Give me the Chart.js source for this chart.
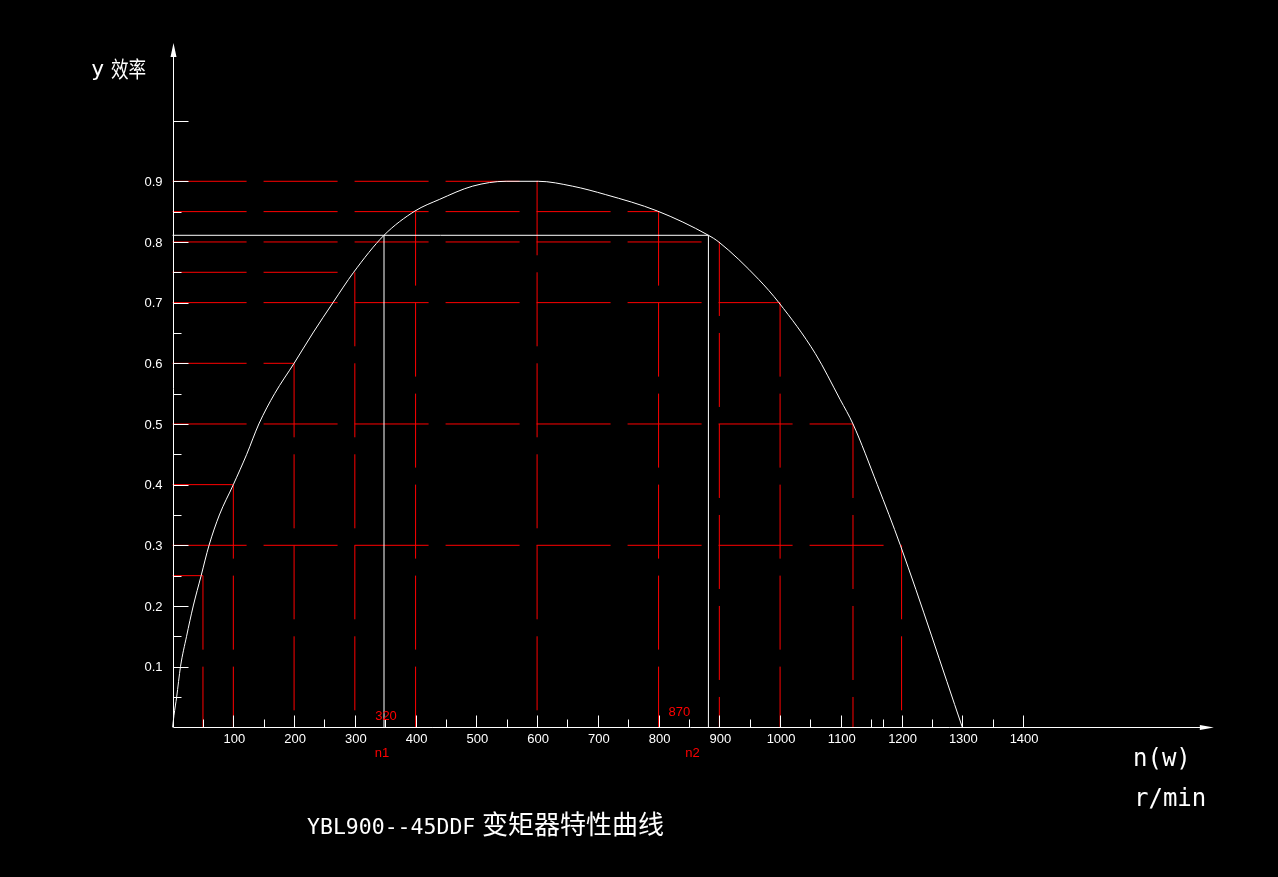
<!DOCTYPE html>
<html><head><meta charset="utf-8">
<script src="https://cdn.jsdelivr.net/npm/chart.js@4.4.1/dist/chart.umd.min.js"></script>
<style>html,body{margin:0;padding:0;background:#000;overflow:hidden}canvas{display:block}</style>
</head><body>
<canvas id="c" width="1278" height="877"></canvas>
<script>
// efficiency curve  n (r/min) -> y
const curveX = [0, 2.3, 6.7, 13, 23, 34, 47, 60, 77, 100, 122, 142, 168, 200, 231, 264, 298, 348, 399, 439, 494, 549, 602, 658, 713, 798, 882, 899, 965, 998, 1058, 1099, 1120, 1160, 1198, 1300];
const curveY = [0, 0.02, 0.05, 0.1, 0.15, 0.2, 0.25, 0.3, 0.35, 0.4, 0.45, 0.5, 0.55, 0.6, 0.65, 0.7, 0.75, 0.811, 0.851, 0.87, 0.892, 0.9, 0.9, 0.892, 0.878, 0.851, 0.811, 0.8, 0.738, 0.7, 0.616, 0.54, 0.5, 0.4, 0.3, 0];
// red dashed construction lines
const hLevels = [0.9, 0.85, 0.8, 0.75, 0.7, 0.6, 0.5, 0.4, 0.3, 0.25];
const hEnds   = [602, 800, 900, 300, 1000, 200, 1120, 100, 1200, 50];
const vPos    = [50, 100, 200, 300, 400, 600, 800, 900, 1000, 1120, 1200];
const vTops   = [0.25, 0.4, 0.6, 0.75, 0.85, 0.9, 0.85, 0.8, 0.7, 0.5, 0.3];
// working range marks n1 / n2
const markX = [348, 882];
const markLevel = 0.811;
const markValues = ['320', '870'];
const markNames = ['n1', 'n2'];
// axes
const xTickLabels = [100, 200, 300, 400, 500, 600, 700, 800, 900, 1000, 1100, 1200, 1300, 1400];
const xTickMarks = [50,100,150,200,250,300,350,400,450,500,550,600,650,700,750,800,850,900,950,1000,1050,1100,1150,1170,1200,1250,1300,1350,1400];
const yTickLabels = [0.1, 0.2, 0.3, 0.4, 0.5, 0.6, 0.7, 0.8, 0.9];
const yTickMarks = [0.05,0.1,0.15,0.2,0.25,0.3,0.35,0.4,0.45,0.5,0.55,0.6,0.65,0.7,0.75,0.8,0.85,0.9,1.0];
const axisXEnd = 1714;
const axisYEnd = 1.128;

const RED = '#ff0000', WHITE = '#ffffff';
const datasets = [];
datasets.push({
  data: curveX.map((v, i) => ({x: v, y: curveY[i]})),
  borderColor: WHITE, borderWidth: 1, pointRadius: 0, showLine: true,
  cubicInterpolationMode: 'monotone', order: 0
});
datasets.push({
  data: [{x: 0, y: markLevel}, {x: markX[1], y: markLevel}],
  borderColor: WHITE, borderWidth: 1, pointRadius: 0, showLine: true, order: 1
});
markX.forEach(m => datasets.push({
  data: [{x: m, y: 0}, {x: m, y: markLevel}],
  borderColor: WHITE, borderWidth: 1, pointRadius: 0, showLine: true, order: 1
}));
hLevels.forEach((lv, i) => datasets.push({
  data: [{x: 0, y: lv}, {x: hEnds[i], y: lv}],
  borderColor: RED, borderWidth: 1, borderDash: [74, 17], pointRadius: 0, showLine: true, order: 2
}));
vPos.forEach((p, i) => datasets.push({
  data: [{x: p, y: vTops[i]}, {x: p, y: 0}],
  borderColor: RED, borderWidth: 1, borderDash: [74, 17], pointRadius: 0, showLine: true, order: 2
}));

const overlay = {
  id: 'overlay',
  afterDatasetsDraw(chart) {
    const ctx = chart.ctx, xs = chart.scales.x, ys = chart.scales.y;
    const px = v => xs.getPixelForValue(v), py = v => ys.getPixelForValue(v);
    const cx = v => Math.round(px(v)) + 0.5, cy = v => Math.round(py(v)) + 0.5;
    const x0 = cx(0), y0 = cy(0);
    ctx.save();
    ctx.strokeStyle = WHITE; ctx.fillStyle = WHITE; ctx.lineWidth = 1;
    ctx.beginPath();
    ctx.moveTo(x0, y0); ctx.lineTo(x0, py(axisYEnd) + 6);
    ctx.moveTo(x0, y0); ctx.lineTo(px(axisXEnd) - 6, y0);
    xTickMarks.forEach(v => {
      const len = v % 100 === 0 ? 12 : 8;
      ctx.moveTo(cx(v), y0); ctx.lineTo(cx(v), y0 - len);
    });
    yTickMarks.forEach(v => {
      const k = Math.round(v * 100);
      const len = k % 10 === 0 ? 15 : 8;
      ctx.moveTo(x0, cy(v)); ctx.lineTo(x0 + len, cy(v));
    });
    ctx.stroke();
    // arrows
    const ty = py(axisYEnd), tx = px(axisXEnd);
    ctx.beginPath();
    ctx.moveTo(x0, ty); ctx.lineTo(x0 - 3, ty + 14); ctx.lineTo(x0 + 3, ty + 14); ctx.closePath();
    ctx.moveTo(tx, y0); ctx.lineTo(tx - 14, y0 - 2.5); ctx.lineTo(tx - 14, y0 + 2.5); ctx.closePath();
    ctx.fill();
    // tick labels
    ctx.font = '13px "Liberation Sans", Arial, sans-serif';
    ctx.textAlign = 'center'; ctx.textBaseline = 'middle';
    xTickLabels.forEach(v => ctx.fillText(String(v), px(v) + 1, y0 + 12));
    ctx.textAlign = 'right';
    yTickLabels.forEach(v => ctx.fillText(v.toFixed(1), x0 - 11, py(v) + 1));
    // marks
    ctx.fillStyle = RED; ctx.textAlign = 'center';
    markX.forEach((m, i) => {
      ctx.fillText(markValues[i], px(m) + (i === 0 ? 2 : -29), y0 - 11 - (i === 1 ? 4 : 0));
      ctx.fillText(markNames[i], px(m) + (i === 0 ? -2 : -16), y0 + 26);
    });
    // axis titles
    ctx.fillStyle = WHITE; ctx.textAlign = 'left'; ctx.textBaseline = 'alphabetic';
    ctx.font = '22px "DejaVu Sans Mono", monospace';
    ctx.fillText('y', 91, 76);
    ctx.save();
    ctx.translate(111, 77);
    ctx.scale(0.8, 1);
    ctx.font = '22px "Noto Sans CJK SC", sans-serif';
    ctx.fillText('效率', 0, 0);
    ctx.restore();
    ctx.font = '24px "DejaVu Sans Mono", monospace';
    ctx.fillText('n(w)', 1133, 766);
    ctx.fillText('r/min', 1134, 806);
    ctx.font = '21.5px "DejaVu Sans Mono", monospace';
    ctx.fillText('YBL900--45DDF', 307, 834);
    ctx.font = '26px "Noto Sans CJK SC", sans-serif';
    ctx.fillText('变矩器特性曲线', 482, 834);
    ctx.restore();
  }
};

new Chart(document.getElementById('c'), {
  type: 'scatter',
  data: { datasets },
  options: {
    responsive: false, animation: false, devicePixelRatio: 1,
    layout: { padding: 0 },
    plugins: { legend: { display: false }, tooltip: { enabled: false }, title: { display: false } },
    elements: { point: { radius: 0 } },
    scales: {
      x: { type: 'linear', display: false, min: -284.1, max: 1819.6 },
      y: { type: 'linear', display: false, min: -0.2467, max: 1.1988 }
    }
  },
  plugins: [overlay]
});
</script>
</body></html>
